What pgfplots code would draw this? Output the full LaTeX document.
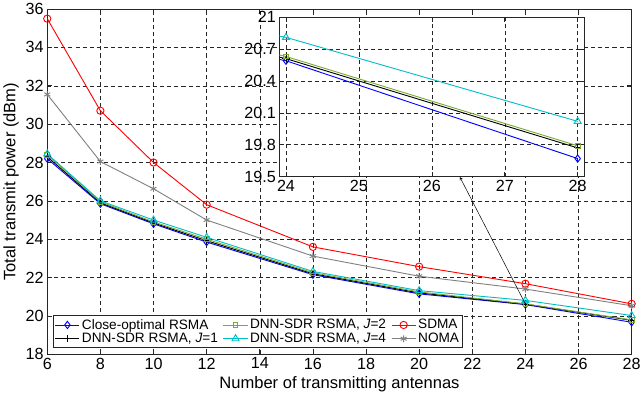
\documentclass[border=0pt]{standalone}
\usepackage{pgfplots}
\pgfplotsset{compat=1.18}
\usepackage{pgfplotstable}
\usepackage{fontspec}
\setmainfont{Liberation Sans}

\definecolor{mgreen}{rgb}{0.47,0.67,0.19}
\definecolor{mcyan}{rgb}{0.0,0.75,0.78}
\definecolor{mgray}{rgb}{0.5,0.5,0.5}
\definecolor{boxcol}{rgb}{0.15,0.15,0.15}

\newcommand{\tickfont}{\fontsize{16}{18}\selectfont}
\newcommand{\labelfont}{\fontsize{16.4}{19}\selectfont}
\newcommand{\legfont}{\fontsize{13.5}{15}\selectfont}

% N, close-optimal RSMA, DNN-SDR J=1, J=2, J=4, SDMA, NOMA
\pgfplotstableread{
N  opt    j1     j2     j4     sdma   noma
6  28.20  28.30  28.40  28.45  35.50  31.55
8  25.85  25.90  25.95  26.00  30.70  28.05
10 24.80  24.85  24.90  25.00  28.00  26.63
12 23.85  23.92  24.00  24.10  25.80  25.00
16 22.15  22.20  22.25  22.32  23.60  23.12
20 21.15  21.20  21.25  21.32  22.57  22.07
24 20.59  20.61  20.63  20.81  21.68  21.40
28 19.67  19.77  19.79  20.02  20.63  20.53
}\powertab

\pgfplotsset{
  sOpt/.style={blue, line width=0.9pt, mark=diamond, mark size=3.6pt, mark options={solid, fill=none}},
  sJ1/.style={black, line width=0.9pt, mark=+, mark size=3.6pt},
  sJ2/.style={mgreen, line width=0.9pt, mark=square, mark size=2.4pt, mark options={fill=none}},
  sJ4/.style={mcyan, line width=0.9pt, mark=triangle, mark size=4pt, mark options={fill=none}},
  sSDMA/.style={red, line width=0.9pt, mark=o, mark size=3.6pt},
  sNOMA/.style={mgray, line width=0.9pt, mark=asterisk, mark size=3.4pt},
  matlabbox/.style={
    axis line style={boxcol, line width=0.6pt},
    tick style={boxcol, line width=0.6pt},
    tick align=inside,
    major tick length=5pt,
    grid=major,
    major grid style={black!85, dash pattern=on 4pt off 3pt, line width=0.5pt},
    ticklabel style={font=\tickfont},
    /pgf/number format/assume math mode=true,
  },
}

\begin{document}
\begin{tikzpicture}
\begin{axis}[
  matlabbox,
  scale only axis,
  width=579pt, height=342pt,
  xmin=6, xmax=28, ymin=18, ymax=36,
  xtick={6,8,...,28}, ytick={18,20,...,36},
  xlabel={Number of transmitting antennas},
  ylabel={Total transmit power (dBm)},
  label style={font=\labelfont},
  legend columns=3,
  legend cell align=left,
  legend style={at={(0.01,0.018)}, anchor=south west, draw=boxcol, line width=0.6pt,
    font=\legfont, nodes={font=\legfont}, inner sep=1.5pt,
    /tikz/every even column/.append style={column sep=3pt},
    row sep=-1.5pt},
  legend image code/.code={%
    \draw[mark repeat=2, mark phase=2, #1]
      plot coordinates {(0cm,0cm) (0.42cm,0cm) (0.84cm,0cm)};},
]
\addplot[sOpt, forget plot] table[x=N, y=opt] {\powertab};
\addplot[sJ1, forget plot] table[x=N, y=j1] {\powertab};
\addplot[sJ2, forget plot] table[x=N, y=j2] {\powertab};
\addplot[sJ4, forget plot] table[x=N, y=j4] {\powertab};
\addplot[sSDMA, forget plot] table[x=N, y=sdma] {\powertab};
\addplot[sNOMA, forget plot] table[x=N, y=noma] {\powertab};

\addlegendimage{sOpt}\addlegendentry{Close-optimal RSMA}
\addlegendimage{sJ2}\addlegendentry{DNN-SDR RSMA, \textit{J}=2}
\addlegendimage{sSDMA}\addlegendentry{SDMA}
\addlegendimage{sJ1}\addlegendentry{DNN-SDR RSMA, \textit{J}=1}
\addlegendimage{sJ4}\addlegendentry{DNN-SDR RSMA, \textit{J}=4}
\addlegendimage{sNOMA}\addlegendentry{NOMA}

\coordinate (arrowtail) at (axis cs:24,20.62);
\coordinate (arrowhead) at (axis cs:21.53,27.25);
\end{axis}

% zoomed view of N = 24 ... 28
\begin{axis}[
  matlabbox,
  at={(230pt,176pt)}, anchor=south west,
  scale only axis,
  width=302pt, height=158pt,
  xmin=23.91, xmax=28.09, ymin=19.5, ymax=21,
  xtick={24,25,...,28}, ytick={19.5,19.8,20.1,20.4,20.7,21},
  yticklabels={19.5,19.8,20.1,20.4,20.7,21},
  axis background/.style={fill=white},
  clip=true,
]
\addplot[sOpt] table[x=N, y=opt] {\powertab};
\addplot[sJ1] table[x=N, y=j1] {\powertab};
\addplot[sJ2] table[x=N, y=j2] {\powertab};
\addplot[sJ4] table[x=N, y=j4] {\powertab};
\end{axis}

\draw[->, >=stealth, black, line width=0.5pt] (arrowtail) -- (arrowhead);
\end{tikzpicture}
\end{document}
